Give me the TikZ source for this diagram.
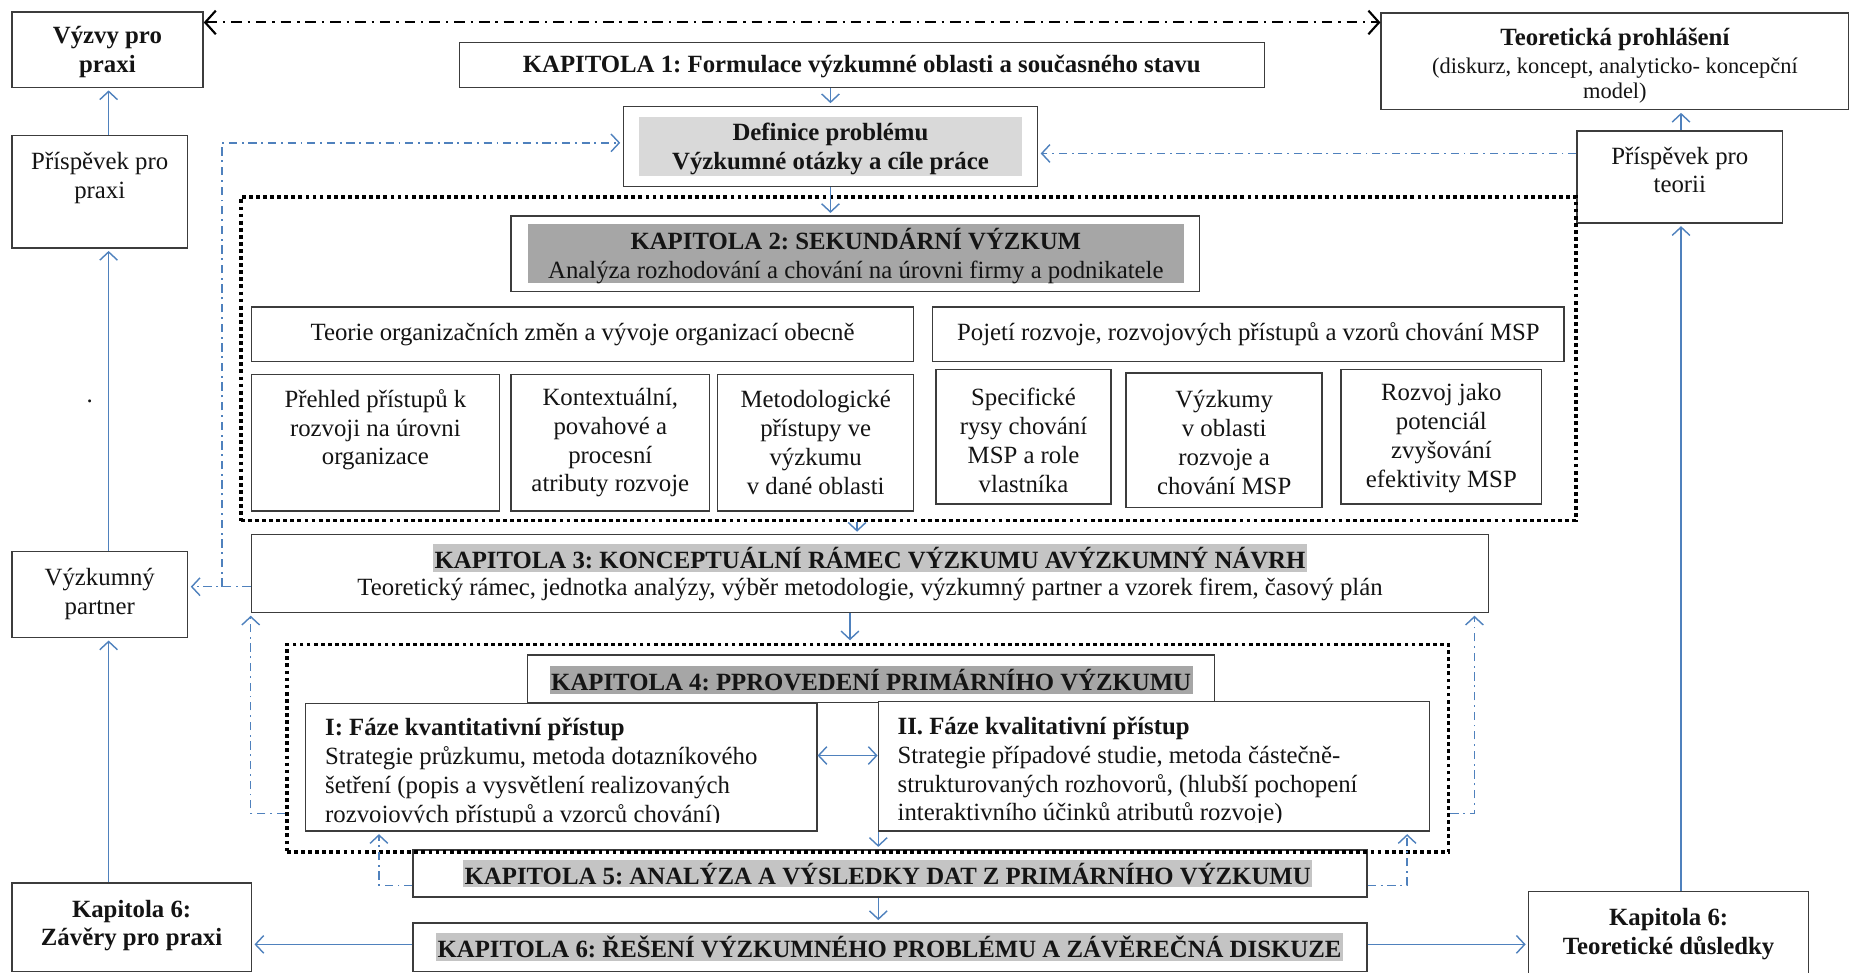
\documentclass[tikz,border=0pt]{standalone}
\usepackage{fontspec}
\setmainfont{Liberation Serif}
\usetikzlibrary{arrows.meta,fit}

\definecolor{boxc}{HTML}{3C3C3C}
\definecolor{ink}{HTML}{141414}
\definecolor{flowblue}{HTML}{4F81BD}
\definecolor{lightfill}{HTML}{D9D9D9}
\definecolor{midfill}{HTML}{C4C4C4}
\definecolor{darkfill}{HTML}{A6A6A6}

\newcommand\nf{\fontsize{10.5}{12.2}\selectfont\frenchspacing}
\newcommand\smallnf{\fontsize{9.5}{10.5}\selectfont\frenchspacing}

\begin{document}
\begin{tikzpicture}[x=0.5pt,y=-0.5pt,
  box/.style={draw=boxc, line width=0.6pt, fill=white, inner sep=0pt},
  panel/.style={fill=#1, inner sep=0pt},
  lbl/.style={inner sep=0pt, align=center, text=ink, font=\nf},
  bl/.style={lbl, font=\nf\bfseries},
  hl/.style={bl, inner xsep=0.6pt, inner ysep=1.3pt},
  tip/.tip={Straight Barb[length=3.5pt,width=7.5pt]},
  flow/.style={draw=flowblue, line width=0.6pt, -tip, shorten >=1pt},
  twoway/.style={draw=flowblue, line width=0.6pt, tip-tip},
  fb/.style={flow, dash pattern=on 3.5pt off 2pt on 0.8pt off 2pt},
  grp/.style={draw=black, line width=1.6pt, dash pattern=on 1.6pt off 1.4pt,
              inner sep=0pt},
  link/.style={draw=black, line width=0.9pt,
                dash pattern=on 4.5pt off 2.5pt on 1pt off 2.5pt,
                {Straight Barb[length=4.5pt,width=10pt]}-{Straight Barb[length=4.5pt,width=10pt]}}
]
\useasboundingbox (0,0) rectangle (1568,824);

% ---------- outer column, left ----------
\node[box, fit={(10,10) (172,74)}] (vyzvy) {};
\node[bl] (vyzvyt) at (91,44) {Výzvy pro\\praxi};
\node[box, fit={(10,115) (159,210)}] (ppraxe) {};
\node[lbl] (ppraxet) at (84.5,151) {Příspěvek pro\\praxi};
\node[lbl] (dot) at (76,340) {.};
\node[box, fit={(10,467) (159,540)}] (partner) {};
\node[lbl] (partnert) at (84.5,503) {Výzkumný\\partner};
\node[box, fit={(10,748) (213,823)}] (zavery) {};
\node[bl] (zaveryt) at (111.5,784) {Kapitola 6:\\Závěry pro praxi};

% ---------- outer column, right ----------
\node[box, fit={(1170,11) (1566,93)}] (teorp) {};
\node[bl] (teorpt) at (1368,33) {Teoretická prohlášení};
\node[lbl, font=\smallnf] (teorps) at (1368,68) {(diskurz, koncept, analyticko- koncepční\\model)};
\node[box, fit={(1336,111) (1510,189)}] (pteorie) {};
\node[lbl] (pteoriet) at (1423,144) {Příspěvek pro\\teorii};
\node[box, fit={(1295,755) (1532,840)}] (teod) {};
\node[bl] (teodt) at (1413.5,791) {Kapitola 6:\\Teoretické důsledky};

% ---------- chapter 1 and problem definition ----------
\node[box, fit={(389,36) (1071,74)}] (kap1) {};
\node[bl] (kap1t) at (730,56) {KAPITOLA 1: Formulace výzkumné oblasti a současného stavu};
\node[box, fit={(528,90) (879,158)}] (def) {};
\node[panel=lightfill, fit={(541,99) (866,149)}] (defp) {};
\node[bl] (deft) at (703.5,126) {Definice problému\\Výzkumné otázky a cíle práce};

% ---------- chapter 2 ----------
\node[box, fit={(433,183) (1016,247)}] (kap2) {};
\node[panel=darkfill, fit={(447,190) (1003,240)}] (kap2p) {};
\node[lbl] (kap2t) at (725,217)
  {{\bfseries KAPITOLA 2: SEKUNDÁRNÍ VÝZKUM}\\Analýza rozhodování a chování na úrovni firmy a podnikatele};
\node[box, fit={(213,260) (774,306)}] (teorie) {};
\node[lbl] (teoriet) at (493.5,283) {Teorie organizačních změn a vývoje organizací obecně};
\node[box, fit={(790,260) (1325,306)}] (pojeti) {};
\node[lbl] (pojetit) at (1057.5,283) {Pojetí rozvoje, rozvojových přístupů a vzorů chování MSP};
\node[box, fit={(213,317) (423,433)}] (prehled) {};
\node[lbl] (prehledt) at (318,364) {Přehled přístupů k\\rozvoji na úrovni\\organizace};
\node[box, fit={(433,317) (601,433)}] (kontext) {};
\node[lbl] (kontextt) at (517,375) {Kontextuální,\\povahové a\\procesní\\atributy rozvoje};
\node[box, fit={(608,317) (774,433)}] (metod) {};
\node[lbl] (metodt) at (691,375) {Metodologické\\přístupy ve\\výzkumu\\v dané oblasti};
\node[box, fit={(793,313) (941,427)}] (specif) {};
\node[lbl] (specift) at (867,373) {Specifické\\rysy chování\\MSP a role\\vlastníka};
\node[box, fit={(954,316) (1120,430)}] (vyzkumy) {};
\node[lbl] (vyzkumyt) at (1037,375) {Výzkumy\\v oblasti\\rozvoje a\\chování MSP};
\node[box, fit={(1136,313) (1306,427)}] (rozvoj) {};
\node[lbl] (rozvojt) at (1221,371) {Rozvoj jako\\potenciál\\zvyšování\\efektivity MSP};

% ---------- chapter 3 ----------
\node[box, fit={(213,453) (1261,519)}] (kap3) {};
\node[hl, fill=midfill] (kap3t) at (737,473)
  {KAPITOLA 3: KONCEPTUÁLNÍ RÁMEC VÝZKUMU AVÝZKUMNÝ NÁVRH};
\node[lbl] (kap3s) at (737,499)
  {Teoretický rámec, jednotka analýzy, výběr metodologie, výzkumný partner a vzorek firem, časový plán};

% ---------- chapter 4 ----------
\node[box, fit={(447,555) (1029,595)}] (kap4) {};
\node[hl, fill=darkfill] (kap4t) at (738,576) {KAPITOLA 4: PPROVEDENÍ PRIMÁRNÍHO VÝZKUMU};
\node[box, fit={(259,596) (692,704)}] (ph1) {};
\node[box, fit={(744,594) (1211,704)}] (ph2) {};
\begin{scope}
  \clip (259,596) rectangle (692,697);
  \node[lbl, align=left, anchor=north west] (ph1t) at (275,608)
    {{\bfseries I: Fáze kvantitativní přístup}\\
     Strategie průzkumu, metoda dotazníkového\\
     šetření (popis a vysvětlení realizovaných\\
     rozvojových přístupů a vzorců chování)};
\end{scope}
\begin{scope}
  \clip (744,594) rectangle (1211,697);
  \node[lbl, align=left, anchor=north west] (ph2t) at (760,607)
    {{\bfseries II. Fáze kvalitativní přístup}\\
     Strategie případové studie, metoda částečně-\\
     strukturovaných rozhovorů, (hlubší pochopení\\
     interaktivního účinků atributů rozvoje)};
\end{scope}

% ---------- chapters 5 and 6 ----------
\node[box, fit={(350,720) (1158,760)}] (kap5) {};
\node[hl, fill=midfill] (kap5t) at (752,740)
  {KAPITOLA 5: ANALÝZA A VÝSLEDKY DAT Z PRIMÁRNÍHO VÝZKUMU};
\node[box, fit={(350,782) (1158,823)}] (kap6) {};
\node[hl, fill=midfill] (kap6t) at (753.5,802)
  {KAPITOLA 6: ŘEŠENÍ VÝZKUMNÉHO PROBLÉMU A ZÁVĚREČNÁ DISKUZE};

% ---------- dotted groups ----------
\node[grp, fit={(204,167) (1335,441)}] (grp1) {};
\node[grp, fit={(243,546) (1227,722)}] (grp2) {};

% ---------- helper positions for connectors ----------
\coordinate (xl) at (92,0);
\coordinate (xr) at (1424,0);
\coordinate (yt) at (0,19);
\coordinate (ym) at (0,130);
\coordinate (yd) at (0,121);
\coordinate (xd) at (188,0);
\coordinate (yp) at (0,497);
\coordinate (xa) at (726,0);
\coordinate (xb) at (720,0);
\coordinate (xc) at (744,0);
\coordinate (yq) at (0,640);
\coordinate (yr) at (0,689);
\coordinate (xq) at (1249,0);
\coordinate (yf) at (0,750);
\coordinate (xg) at (321,0);
\coordinate (xh) at (1192,0);
\coordinate (yk) at (0,800);

% ---------- connectors ----------
\draw[link] (vyzvy.east |- yt) -- (teorp.west |- yt);

\draw[flow] (zavery.north -| xl) -- (partner.south -| xl);
\draw[flow] (partner.north -| xl) -- (ppraxe.south -| xl);
\draw[flow] (ppraxe.north -| xl) -- (vyzvy.south -| xl);
\draw[flow] (teod.north -| xr) -- (pteorie.south -| xr);
\draw[flow] (pteorie.north -| xr) -- (teorp.south -| xr);

\draw[flow] (kap1.south -| def.north) -- (def.north);
\draw[flow] (def.south) -- (def.south |- kap2.north);
\draw[flow] (grp1.south -| xa) -- (kap3.north -| xa);
\draw[flow] (kap3.south -| xb) -- (grp2.north -| xb);
\draw[twoway] (ph1.east |- yq) -- (ph2.west |- yq);
\draw[flow] (ph2.south -| xc) -- (kap5.north -| xc);
\draw[flow] (kap5.south -| xc) -- (kap6.north -| xc);
\draw[flow] (kap6.west |- yk) -- (zavery.east |- yk);
\draw[flow] (kap6.east |- yk) -- (teod.west |- yk);

\draw[fb] (pteorie.west |- ym) -- (def.east |- ym);
\draw[fb] (kap3.west |- yp) -- (partner.east |- yp);
\draw[fb] (xd |- yp) -- (xd |- yd) -- (def.west |- yd);
\draw[fb] (grp2.west |- yr) -| (kap3.south west);
\draw[fb] (grp2.east |- yr) -| (kap3.south -| xq);
\draw[fb] (kap5.west |- yf) -| (ph1.south -| xg);
\draw[fb] (kap5.east |- yf) -| (ph2.south -| xh);

\end{tikzpicture}
\end{document}
